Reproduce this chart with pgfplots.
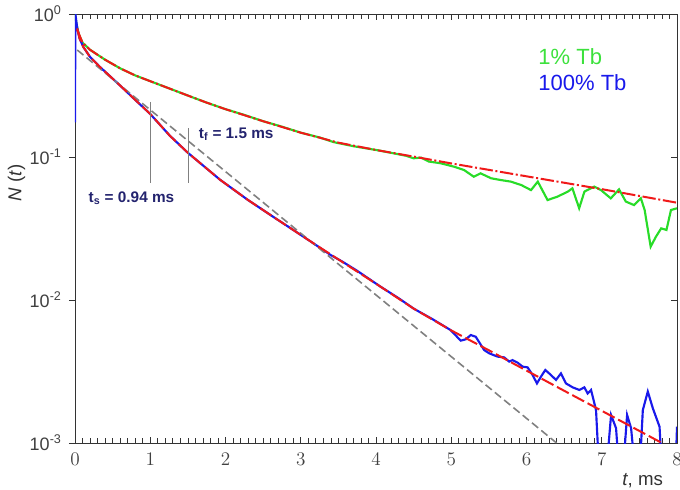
\documentclass[border=0pt]{standalone}
\usepackage{pgfplots}
\pgfplotsset{compat=1.18}
\usepackage{fontspec}
\setmainfont{Liberation Sans}
\definecolor{cgreen}{RGB}{40,220,40}
\definecolor{cblue}{RGB}{25,25,235}
\definecolor{cred}{RGB}{240,25,25}
\definecolor{cnavy}{RGB}{35,35,110}
\definecolor{ltgreen}{RGB}{60,225,60}
\begin{document}
\begin{tikzpicture}
\begin{semilogyaxis}[
  at={(0,0)}, anchor=south west,
  scale only axis, width=451.5pt, height=321.75pt,
  xmin=0, xmax=8, ymin=1e-3, ymax=1,
  xtick={0,1,2,3,4,5,6,7,8}, minor x tick num=9,
  xtick align=inside, xtick pos=both,
  ytick={1e-3,1e-2,1e-1,1},
  yticklabels={10\textsuperscript{-3},10\textsuperscript{-2},10\textsuperscript{-1},10\textsuperscript{0}},
  yminorticks=false, ytick align=outside, ytick pos=left,
  major tick length=4.5pt, minor tick length=3.5pt,
  tick style={black!80, line width=0.5pt},
  axis line style={black!80, line width=0.6pt},
  ticklabel style={font=\fontsize{13.5}{15}\selectfont, text=black!75},
  xticklabel style={yshift=-4pt},
  yticklabel style={xshift=-2pt},
  xlabel={\textit{t}, ms},
  xlabel style={at={(axis description cs:0.943,-0.088)}, anchor=center, font=\fontsize{14}{16}\selectfont, text=black!80},
  ylabel={\textit{N} (\textit{t})},
  ylabel style={at={(axis description cs:-0.097,0.606)}, anchor=center, font=\fontsize{14}{16}\selectfont, text=black!80},
]
% 1% Tb data
\addplot[cgreen, line width=1.6pt] coordinates {
(0,1.0)(0.02,0.851)(0.05,0.724)(0.1,0.631)(0.2,0.562)(0.4,0.479)(0.6,0.417)(0.8,0.372)
(1.0,0.339)(1.25,0.302)(1.5,0.269)(1.75,0.240)(2.0,0.216)(2.25,0.197)(2.5,0.178)(2.75,0.163)
(3.0,0.148)(3.25,0.137)(3.44,0.127)(3.7,0.119)(4.0,0.112)(4.2,0.107)(4.4,0.102)(4.5,0.098)
(4.6,0.099)(4.7,0.093)(4.86,0.0904)
(5.04,0.0855)(5.17,0.0811)(5.30,0.0728)(5.39,0.0769)(5.53,0.0710)(5.66,0.0690)(5.79,0.0673)
(5.93,0.0637)(6.06,0.0587)(6.15,0.0673)(6.28,0.0500)(6.41,0.0528)(6.55,0.0573)(6.61,0.0604)
(6.70,0.0438)(6.77,0.0573)(6.90,0.0621)(6.99,0.0587)(7.12,0.0514)(7.23,0.0594)(7.32,0.0488)
(7.43,0.0461)(7.52,0.0514)(7.57,0.0426)(7.65,0.0236)(7.72,0.0277)(7.79,0.0317)(7.86,0.0309)
(7.92,0.0426)(8.0,0.0438)
};
% 100% Tb data
\addplot[cblue, line width=1.6pt] coordinates {
(0,0.175)(0.005,1.0)(0.03,0.794)(0.06,0.676)(0.11,0.589)(0.2,0.501)(0.33,0.427)(0.6,0.316)
(0.8,0.251)(1.0,0.200)(1.26,0.141)(1.5,0.107)(1.93,0.0692)(2.3,0.0500)(2.64,0.0380)(2.9,0.0309)
(3.13,0.0257)(3.4,0.0206)(3.55,0.0186)(3.75,0.0160)(4.06,0.0124)(4.3,0.0103)(4.5,0.00871)
(4.75,0.00735)(4.99,0.00617)
(5.126,0.00520)(5.193,0.00531)(5.260,0.00569)(5.326,0.00553)(5.437,0.00447)(5.504,0.00424)
(5.615,0.00402)(5.704,0.00397)(5.770,0.00371)(5.815,0.00380)(5.881,0.00365)(5.948,0.00342)
(6.015,0.00338)(6.081,0.00299)(6.139,0.00261)(6.192,0.00291)(6.250,0.00324)(6.325,0.00299)
(6.392,0.00276)(6.458,0.00307)(6.525,0.00261)(6.614,0.00245)(6.702,0.00235)(6.769,0.00245)
(6.813,0.00222)(6.858,0.00235)(6.924,0.00170)(6.968,0.0006)
(7.057,0.0006)(7.124,0.00157)(7.190,0.00127)(7.235,0.0006)
(7.279,0.0006)(7.337,0.00157)(7.390,0.00127)(7.448,0.0006)
(7.501,0.0006)(7.546,0.00170)(7.612,0.00229)(7.679,0.00175)(7.768,0.00130)(7.803,0.0006)
(7.98,0.0006)(8.0,0.0013)
};
% single-exponential guide
\addplot[gray, line width=1.2pt, dash pattern=on 6pt off 3pt] coordinates {(0.03,0.56)(6.4,0.001)};
% fits
\addplot[cred, line width=1.5pt, dash pattern=on 10pt off 2pt on 1.5pt off 2pt] coordinates {
(0.03,0.776)(0.1,0.631)(0.2,0.562)(0.4,0.479)(0.6,0.417)(0.8,0.372)(1.0,0.339)(1.25,0.302)
(1.5,0.269)(1.75,0.240)(2.0,0.216)(2.5,0.178)(3.0,0.148)(3.5,0.126)(4.0,0.112)(4.5,0.1007)
(5.0,0.0902)(6.0,0.0733)(7.0,0.0596)(8.0,0.0479)
};
\addplot[cred, line width=1.5pt, dash pattern=on 10pt off 3pt] coordinates {
(0.03,0.794)(0.06,0.676)(0.11,0.589)(0.2,0.501)(0.33,0.427)(0.6,0.316)(0.8,0.251)(1.0,0.200)
(1.26,0.141)(1.5,0.107)(1.93,0.0692)(2.3,0.0500)(2.64,0.0380)(3.13,0.0257)(4.06,0.0124)
(4.5,0.00871)(4.99,0.00617)(5.5,0.00445)(6.0,0.00321)(6.5,0.00232)(7.0,0.00168)(7.8,0.001)
};
% marker lines
\addplot[gray, line width=0.7pt] coordinates {(1.0,0.243)(1.0,0.066)};
\addplot[gray, line width=0.7pt] coordinates {(1.505,0.159)(1.505,0.066)};
% annotations
\node[anchor=west, text=cnavy, font=\bfseries\fontsize{11.5}{13}\selectfont] at (rel axis cs:0.198,0.720) {t\textsubscript{f} = 1.5 ms};
\node[anchor=west, text=cnavy, font=\bfseries\fontsize{11.5}{13}\selectfont] at (rel axis cs:0.015,0.571) {t\textsubscript{s} = 0.94 ms};
\node[anchor=west, text=ltgreen, font=\fontsize{16.5}{18}\selectfont] at (rel axis cs:0.762,0.900) {1\% Tb};
\node[anchor=west, text=cblue, font=\fontsize{16.5}{18}\selectfont] at (rel axis cs:0.762,0.839) {100\% Tb};
\end{semilogyaxis}
\begin{semilogyaxis}[
  at={(0,0)}, anchor=south west,
  scale only axis, width=451.5pt, height=321.75pt,
  xmin=0, xmax=8, ymin=1e-3, ymax=1,
  hide x axis, axis y line*=right,
  ytick={1e-3,1e-2,1e-1,1}, yticklabels={}, yminorticks=false,
  ytick align=inside, major tick length=4.5pt,
  tick style={black!80, line width=0.5pt},
  axis line style={black!80, line width=0.6pt},
]
\end{semilogyaxis}
\pgfresetboundingbox
\path (-56.25pt,-34.5pt) rectangle (453.75pt,332.25pt);
\end{tikzpicture}
\end{document}
